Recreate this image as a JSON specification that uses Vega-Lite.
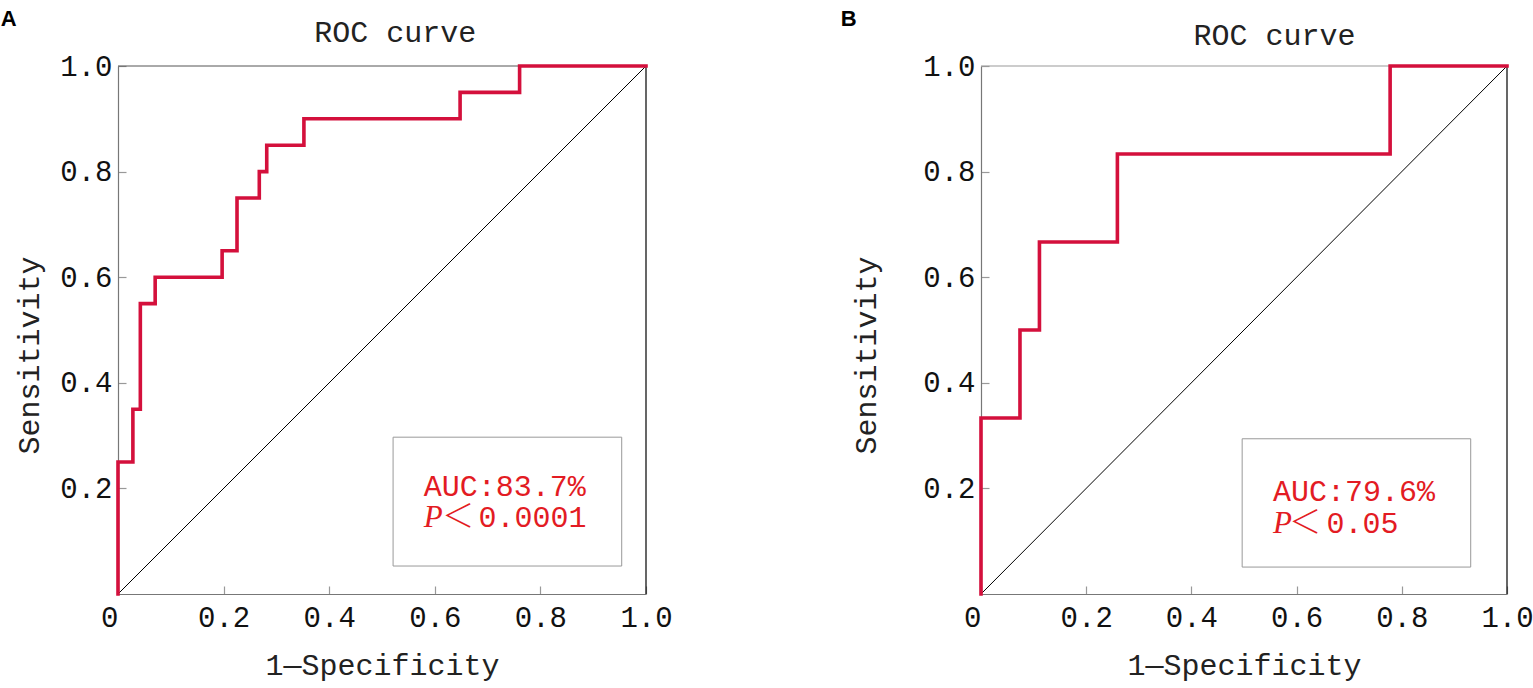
{
  "$schema": "https://vega.github.io/schema/vega-lite/v6.json",
  "background": "white",
  "padding": {"left": 0, "top": 8, "right": 0, "bottom": 6},
  "spacing": 167,
  "datasets": {
    "rocA": [
      {"i": 0, "x": 0, "y": 0},
      {"i": 1, "x": 0, "y": 0.25},
      {"i": 2, "x": 0.0282, "y": 0.35},
      {"i": 3, "x": 0.0423, "y": 0.55},
      {"i": 4, "x": 0.0704, "y": 0.6},
      {"i": 5, "x": 0.1972, "y": 0.65},
      {"i": 6, "x": 0.2254, "y": 0.75},
      {"i": 7, "x": 0.2676, "y": 0.8},
      {"i": 8, "x": 0.2817, "y": 0.85},
      {"i": 9, "x": 0.3521, "y": 0.9},
      {"i": 10, "x": 0.6479, "y": 0.95},
      {"i": 11, "x": 0.7606, "y": 1.0},
      {"i": 12, "x": 1.0, "y": 1.0}
    ],
    "rocB": [
      {"i": 0, "x": 0, "y": 0},
      {"i": 1, "x": 0, "y": 0.3333},
      {"i": 2, "x": 0.0741, "y": 0.5},
      {"i": 3, "x": 0.1111, "y": 0.6667},
      {"i": 4, "x": 0.2593, "y": 0.8333},
      {"i": 5, "x": 0.7778, "y": 1.0},
      {"i": 6, "x": 1.0, "y": 1.0}
    ],
    "diag": [{"x": 0, "y": 0, "x2": 1, "y2": 1}],
    "topBorder": [{"x": 0, "y": 1, "x2": 1, "y2": 1}],
    "rightBorder": [{"x": 1, "y": 0, "x2": 1, "y2": 1}],
    "boxA": [{"x": 0.521, "x2": 0.954, "y": 0.297, "y2": 0.053}],
    "boxB": [{"x": 0.4965, "x2": 0.931, "y": 0.294, "y2": 0.051}],
    "aucA": [{"x": 0.579, "y": 0.185, "t": "AUC:83.7%"}],
    "pA": [{"x": 0.579, "y": 0.126, "t": "P"}],
    "ltA": [{"x": 0.6443, "y": 0.126, "t": "＜"}],
    "pvA": [{"x": 0.6826, "y": 0.126, "t": "0.0001"}],
    "aucB": [{"x": 0.555, "y": 0.176, "t": "AUC:79.6%"}],
    "pB": [{"x": 0.555, "y": 0.1146, "t": "P"}],
    "ltB": [{"x": 0.6163, "y": 0.1146, "t": "＜"}],
    "pvB": [{"x": 0.657, "y": 0.1146, "t": "0.05"}],
    "titleA": [{"x": 0.525, "y": 1.0447, "t": "ROC curve"}],
    "titleB": [{"x": 0.558, "y": 1.0403, "t": "ROC curve"}],
    "letterA": [{"x": -0.2222, "y": 1.0756, "t": "A"}],
    "letterB": [{"x": -0.2667, "y": 1.0756, "t": "B"}]
  },
  "hconcat": [
    {
      "width": 528,
      "height": 528,
      "encoding": {
        "x": {"field": "x", "type": "quantitative", "scale": {"domain": [0, 1], "nice": false},
          "axis": {"title": "1—Specificity", "values": [0, 0.2, 0.4, 0.6, 0.8, 1.0], "labelExpr": "datum.value == 0 ? '0' : format(datum.value, '.1f')", "labelAlign": {"condition": {"test": "datum.value == 0", "value": "right"}, "value": "center"}, "labelPadding": 17, "titleY": 80, "titleBaseline": "alphabetic"}},
        "y": {"field": "y", "type": "quantitative", "scale": {"domain": [0, 1], "nice": false},
          "axis": {"title": "Sensitivity", "values": [0.2, 0.4, 0.6, 0.8, 1.0], "labelExpr": "format(datum.value, '.1f')", "labelPadding": 14, "titleX": -89, "titleY": 289, "titleAlign": "center", "titleBaseline": "middle", "titleAngle": 270}}
      },
      "layer": [
        {
          "data": {"name": "diag"},
          "mark": {"type": "rule", "color": "#000000", "strokeWidth": 1},
          "encoding": {"x2": {"field": "x2"}, "y2": {"field": "y2"}}
        },
        {
          "data": {"name": "topBorder"},
          "mark": {"type": "rule", "color": "#555555", "strokeWidth": 1},
          "encoding": {"x2": {"field": "x2"}, "y2": {"field": "y2"}}
        },
        {
          "data": {"name": "rightBorder"},
          "mark": {"type": "rule", "color": "#000000", "strokeWidth": 1.2},
          "encoding": {"x2": {"field": "x2"}, "y2": {"field": "y2"}}
        },
        {
          "data": {"name": "boxA"},
          "mark": {"type": "rect", "fill": null, "stroke": "#999999", "strokeWidth": 1},
          "encoding": {"x2": {"field": "x2"}, "y2": {"field": "y2"}}
        },
        {
          "data": {"name": "rocA"},
          "mark": {"type": "line", "interpolate": "step-after", "color": "#d4103c", "strokeWidth": 3.6, "strokeJoin": "miter", "strokeCap": "square"},
          "encoding": {"order": {"field": "i", "type": "quantitative"}}
        },
        {
          "data": {"name": "aucA"},
          "mark": {"type": "text", "align": "left", "baseline": "alphabetic", "font": "Liberation Mono", "fontSize": 30, "color": "#e31b23"},
          "encoding": {"text": {"field": "t"}}
        },
        {
          "data": {"name": "pA"},
          "mark": {"type": "text", "align": "left", "baseline": "alphabetic", "font": "Liberation Serif", "fontStyle": "italic", "fontSize": 31, "color": "#e31b23"},
          "encoding": {"text": {"field": "t"}}
        },
        {
          "data": {"name": "ltA"},
          "mark": {"type": "text", "align": "center", "baseline": "alphabetic", "font": "Noto Sans CJK SC", "fontWeight": 300, "fontSize": 32, "color": "#e31b23"},
          "encoding": {"text": {"field": "t"}}
        },
        {
          "data": {"name": "pvA"},
          "mark": {"type": "text", "align": "left", "baseline": "alphabetic", "font": "Liberation Mono", "fontSize": 30, "color": "#e31b23"},
          "encoding": {"text": {"field": "t"}}
        },
        {
          "data": {"name": "titleA"},
          "mark": {"type": "text", "align": "center", "baseline": "alphabetic", "font": "Liberation Mono", "fontSize": 30, "color": "#222222"},
          "encoding": {"text": {"field": "t"}}
        },
        {
          "data": {"name": "letterA"},
          "mark": {"type": "text", "align": "left", "baseline": "alphabetic", "font": "Liberation Sans", "fontWeight": "bold", "fontSize": 22, "color": "#000000"},
          "encoding": {"text": {"field": "t"}}
        }
      ]
    },
    {
      "width": 526,
      "height": 528,
      "encoding": {
        "x": {"field": "x", "type": "quantitative", "scale": {"domain": [0, 1], "nice": false},
          "axis": {"title": "1—Specificity", "values": [0, 0.2, 0.4, 0.6, 0.8, 1.0], "labelExpr": "datum.value == 0 ? '0' : format(datum.value, '.1f')", "labelAlign": {"condition": {"test": "datum.value == 0", "value": "right"}, "value": "center"}, "labelPadding": 17, "titleY": 80, "titleBaseline": "alphabetic"}},
        "y": {"field": "y", "type": "quantitative", "scale": {"domain": [0, 1], "nice": false},
          "axis": {"title": "Sensitivity", "values": [0.2, 0.4, 0.6, 0.8, 1.0], "labelExpr": "format(datum.value, '.1f')", "labelPadding": 14, "titleX": -115, "titleY": 289, "titleAlign": "center", "titleBaseline": "middle", "titleAngle": 270}}
      },
      "layer": [
        {
          "data": {"name": "diag"},
          "mark": {"type": "rule", "color": "#000000", "strokeWidth": 1},
          "encoding": {"x2": {"field": "x2"}, "y2": {"field": "y2"}}
        },
        {
          "data": {"name": "topBorder"},
          "mark": {"type": "rule", "color": "#999999", "strokeWidth": 1},
          "encoding": {"x2": {"field": "x2"}, "y2": {"field": "y2"}}
        },
        {
          "data": {"name": "rightBorder"},
          "mark": {"type": "rule", "color": "#000000", "strokeWidth": 1.2},
          "encoding": {"x2": {"field": "x2"}, "y2": {"field": "y2"}}
        },
        {
          "data": {"name": "boxB"},
          "mark": {"type": "rect", "fill": null, "stroke": "#999999", "strokeWidth": 1},
          "encoding": {"x2": {"field": "x2"}, "y2": {"field": "y2"}}
        },
        {
          "data": {"name": "rocB"},
          "mark": {"type": "line", "interpolate": "step-after", "color": "#d4103c", "strokeWidth": 3.6, "strokeJoin": "miter", "strokeCap": "square"},
          "encoding": {"order": {"field": "i", "type": "quantitative"}}
        },
        {
          "data": {"name": "aucB"},
          "mark": {"type": "text", "align": "left", "baseline": "alphabetic", "font": "Liberation Mono", "fontSize": 30, "color": "#e31b23"},
          "encoding": {"text": {"field": "t"}}
        },
        {
          "data": {"name": "pB"},
          "mark": {"type": "text", "align": "left", "baseline": "alphabetic", "font": "Liberation Serif", "fontStyle": "italic", "fontSize": 31, "color": "#e31b23"},
          "encoding": {"text": {"field": "t"}}
        },
        {
          "data": {"name": "ltB"},
          "mark": {"type": "text", "align": "center", "baseline": "alphabetic", "font": "Noto Sans CJK SC", "fontWeight": 300, "fontSize": 32, "color": "#e31b23"},
          "encoding": {"text": {"field": "t"}}
        },
        {
          "data": {"name": "pvB"},
          "mark": {"type": "text", "align": "left", "baseline": "alphabetic", "font": "Liberation Mono", "fontSize": 30, "color": "#e31b23"},
          "encoding": {"text": {"field": "t"}}
        },
        {
          "data": {"name": "titleB"},
          "mark": {"type": "text", "align": "center", "baseline": "alphabetic", "font": "Liberation Mono", "fontSize": 30, "color": "#222222"},
          "encoding": {"text": {"field": "t"}}
        },
        {
          "data": {"name": "letterB"},
          "mark": {"type": "text", "align": "left", "baseline": "alphabetic", "font": "Liberation Sans", "fontWeight": "bold", "fontSize": 22, "color": "#000000"},
          "encoding": {"text": {"field": "t"}}
        }
      ]
    }
  ],
  "config": {
    "view": {"stroke": null},
    "axis": {
      "labelFont": "Liberation Mono",
      "labelFontSize": 29,
      "labelColor": "#111111",
      "titleFont": "Liberation Mono",
      "titleFontSize": 30,
      "titleFontWeight": "normal",
      "titleColor": "#222222",
      "domainColor": "#777777",
      "domainWidth": 1.2,
      "tickColor": "#999999",
      "tickSize": -8,
      "tickWidth": 1.2,
      "labelOverlap": false,
      "labelFlush": false,
      "labelBound": false,
      "grid": false
    }
  }
}
